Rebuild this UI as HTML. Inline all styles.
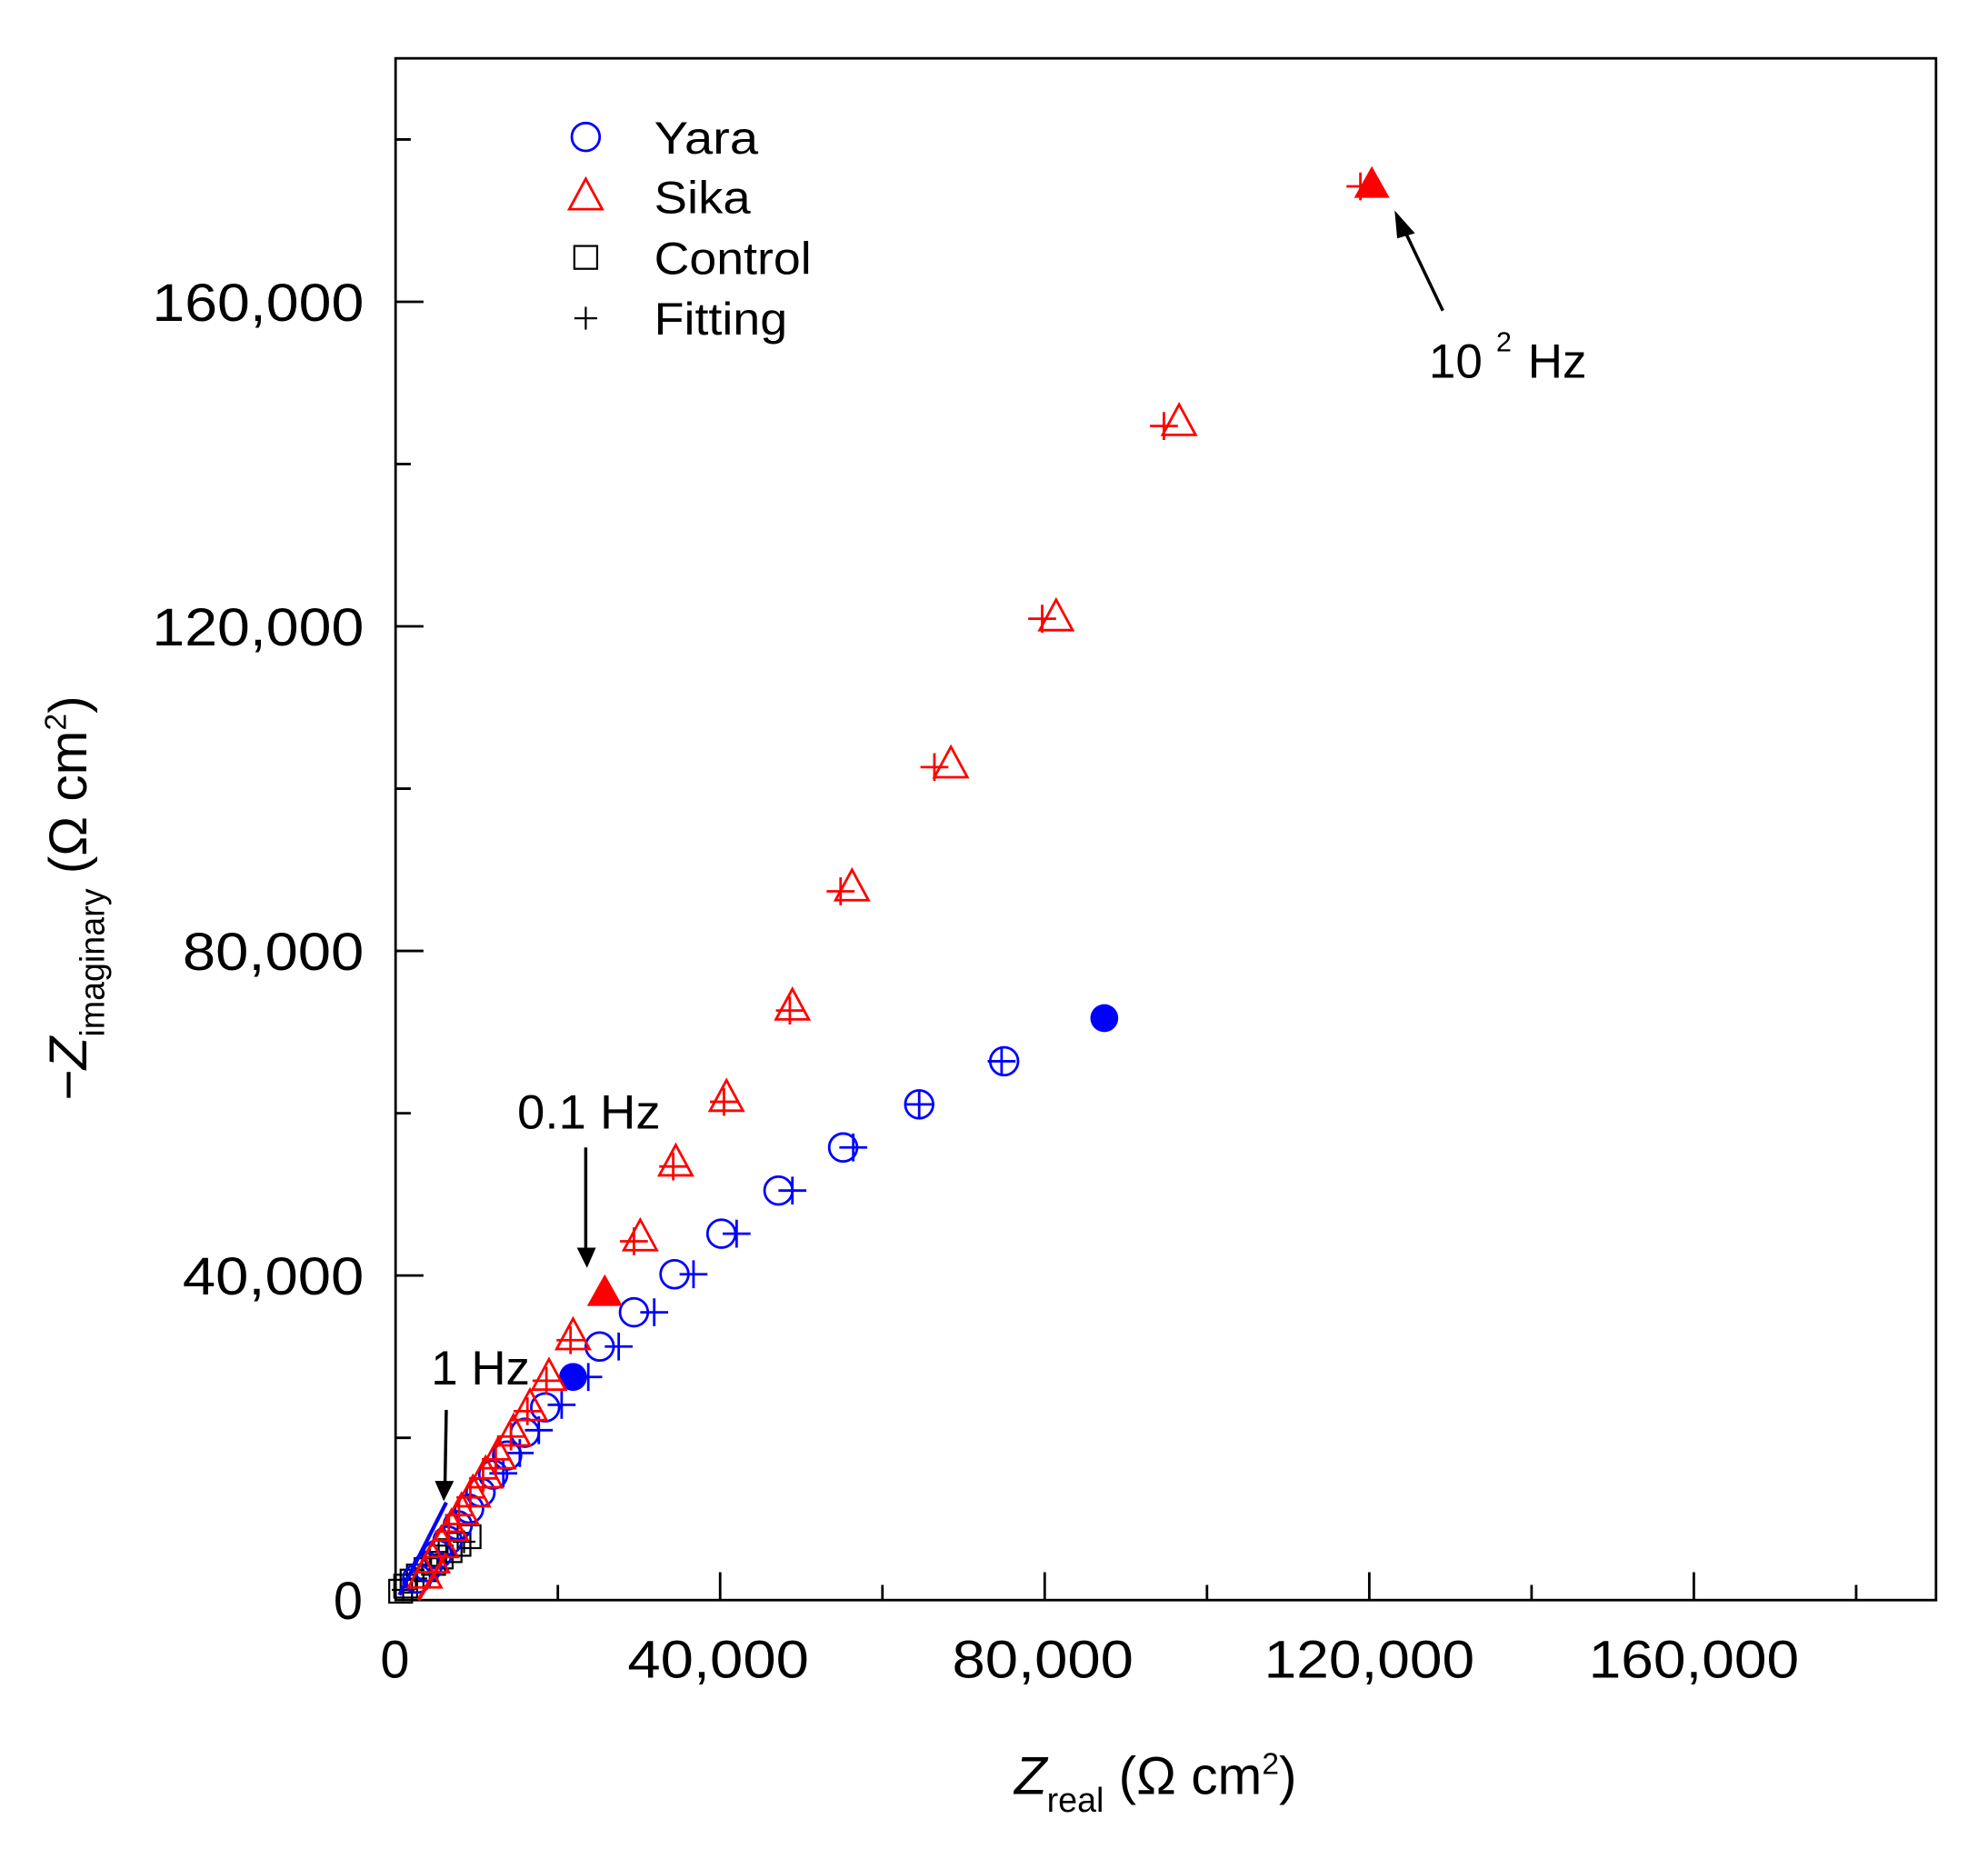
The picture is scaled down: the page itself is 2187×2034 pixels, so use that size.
<!DOCTYPE html>
<html><head><meta charset="utf-8"><style>html,body{margin:0;padding:0;background:#fff}svg{display:block}</style></head>
<body>
<svg width="2187" height="2034" viewBox="0 0 1568 1458.3" xmlns="http://www.w3.org/2000/svg" font-family="Liberation Sans, Arial, sans-serif">
<defs>
<g id="c"><circle r="11" fill="none" stroke="#0000ff" stroke-width="2"/></g>
<g id="t"><path d="M0,-14 L13,10 L-13,10 Z" fill="none" stroke="#ff0000" stroke-width="2"/></g>
<g id="s"><rect x="-9" y="-9" width="18" height="18" fill="none" stroke="#000" stroke-width="1.6"/></g>
<g id="pb"><path d="M-11,0H11M0,-11V11" stroke="#0000ff" stroke-width="2"/></g>
<g id="pr"><path d="M-11,0H11M0,-11V11" stroke="#ff0000" stroke-width="2"/></g>
<g id="pk"><path d="M-9,0H9M0,-9V9" stroke="#000" stroke-width="1.6"/></g>
</defs>
<rect width="1568" height="1458.3" fill="#fff"/>
<rect x="312" y="46" width="1215" height="1216" fill="none" stroke="#000" stroke-width="2"/>
<g stroke="#000" stroke-width="2">
<path d="M440,1262V1250M568,1262V1240M696,1262V1250M824,1262V1240M952,1262V1250M1080,1262V1240M1208,1262V1250M1336,1262V1240M1464,1262V1250"/>
<path d="M312,1134H324M312,1006H334M312,878H324M312,750H334M312,622H324M312,494H334M312,366H324M312,238H334M312,110H324"/>
</g>
<g font-size="42" fill="#000">
<text x="300" y="1323" textLength="23" lengthAdjust="spacingAndGlyphs">0</text>
<text x="495" y="1323" textLength="143" lengthAdjust="spacingAndGlyphs">40,000</text>
<text x="751" y="1323" textLength="143" lengthAdjust="spacingAndGlyphs">80,000</text>
<text x="997" y="1323" textLength="166" lengthAdjust="spacingAndGlyphs">120,000</text>
<text x="1253" y="1323" textLength="166" lengthAdjust="spacingAndGlyphs">160,000</text>
<text x="263" y="1277" textLength="23" lengthAdjust="spacingAndGlyphs">0</text>
<text x="144" y="1021" textLength="143" lengthAdjust="spacingAndGlyphs">40,000</text>
<text x="144" y="765" textLength="143" lengthAdjust="spacingAndGlyphs">80,000</text>
<text x="120" y="509" textLength="167" lengthAdjust="spacingAndGlyphs">120,000</text>
<text x="120" y="253" textLength="167" lengthAdjust="spacingAndGlyphs">160,000</text>
</g>
<text x="800" y="1415" font-size="42"><tspan font-style="italic">Z</tspan><tspan font-size="27" dy="14">real</tspan><tspan dy="-14"> (Ω cm</tspan><tspan font-size="24" dy="-16">2</tspan><tspan dy="16">)</tspan></text>
<text transform="translate(68,868) rotate(-90)" font-size="42"><tspan>−</tspan><tspan font-style="italic">Z</tspan><tspan font-size="27" dy="14">imaginary</tspan><tspan dy="-14"> (Ω cm</tspan><tspan font-size="24" dy="-16">2</tspan><tspan dy="16">)</tspan></text>
<use href="#c" x="462" y="108"/><text x="516" y="121" font-size="36" textLength="82" lengthAdjust="spacingAndGlyphs">Yara</text>
<use href="#t" x="462" y="155"/><text x="516" y="168" font-size="36" textLength="76" lengthAdjust="spacingAndGlyphs">Sika</text>
<use href="#s" x="462" y="203"/><text x="516" y="216" font-size="36" textLength="124" lengthAdjust="spacingAndGlyphs">Control</text>
<use href="#pk" x="462" y="251"/><text x="516" y="264" font-size="36" textLength="105" lengthAdjust="spacingAndGlyphs">Fitting</text>
<text x="1127" y="298" font-size="38">10</text><text x="1180" y="277" font-size="22">2</text><text x="1205" y="298" font-size="38">Hz</text>
<path d="M1138,245L1106,178" stroke="#000" stroke-width="2.5"/><path d="M1100,166L1116,184L1102,188Z" fill="#000"/>
<text x="408" y="890" font-size="38" textLength="113" lengthAdjust="spacingAndGlyphs">0.1 Hz</text>
<path d="M462,905V985" stroke="#000" stroke-width="2.5"/><path d="M455,984L470,984L463,1000Z" fill="#000"/>
<text x="340" y="1092" font-size="38" textLength="78" lengthAdjust="spacingAndGlyphs">1 Hz</text>
<path d="M352,1112L351,1170" stroke="#000" stroke-width="2.5"/><path d="M343,1168L358,1168L350,1184Z" fill="#000"/>
<g>
<use href="#s" x="370" y="1212"/><use href="#s" x="362" y="1218"/><use href="#s" x="355" y="1223"/><use href="#s" x="348" y="1228"/><use href="#s" x="342" y="1233"/><use href="#s" x="336" y="1238"/><use href="#s" x="330" y="1243"/><use href="#s" x="325" y="1247"/><use href="#s" x="320" y="1251"/><use href="#s" x="316" y="1255"/>
<use href="#pk" x="366" y="1216"/><use href="#pk" x="352" y="1226"/><use href="#pk" x="340" y="1235"/><use href="#pk" x="328" y="1245"/><use href="#pk" x="318" y="1254"/>
</g>
<path d="M315,1258L352,1185" stroke="#0000ff" stroke-width="3"/>
<g>
<use href="#c" x="792" y="837"/><use href="#c" x="725" y="871"/><use href="#c" x="665" y="905"/><use href="#c" x="614" y="939"/><use href="#c" x="569" y="973"/><use href="#c" x="532" y="1005"/><use href="#c" x="500" y="1035"/><use href="#c" x="473" y="1062"/>
<use href="#c" x="430" y="1110"/><use href="#c" x="414" y="1130"/><use href="#c" x="400" y="1148"/><use href="#c" x="389" y="1163"/><use href="#c" x="379" y="1177"/><use href="#c" x="370" y="1190"/><use href="#c" x="361" y="1203"/><use href="#c" x="353" y="1215"/><use href="#c" x="345" y="1226"/><use href="#c" x="337" y="1236"/><use href="#c" x="329" y="1245"/>
<use href="#pb" x="790" y="837"/><use href="#pb" x="725" y="871"/><use href="#pb" x="673" y="905"/><use href="#pb" x="625" y="939"/><use href="#pb" x="581" y="973"/><use href="#pb" x="547" y="1005"/><use href="#pb" x="516" y="1035"/><use href="#pb" x="488" y="1062"/><use href="#pb" x="464" y="1086"/><use href="#pb" x="443" y="1108"/><use href="#pb" x="425" y="1128"/><use href="#pb" x="410" y="1146"/><use href="#pb" x="397" y="1162"/>
<circle cx="871" cy="803" r="11" fill="#0000ff"/><circle cx="452" cy="1086" r="11" fill="#0000ff"/>
</g>
<path d="M330,1262L352,1225" stroke="#ff0000" stroke-width="3"/>
<g>
<use href="#t" x="930" y="333"/><use href="#t" x="833" y="487"/><use href="#t" x="750" y="603"/><use href="#t" x="672" y="700"/><use href="#t" x="625" y="794"/><use href="#t" x="573" y="866"/><use href="#t" x="533" y="917"/><use href="#t" x="505" y="976"/>
<use href="#t" x="452" y="1054"/><use href="#t" x="433" y="1086"/><use href="#t" x="418" y="1110"/><use href="#t" x="405" y="1130"/><use href="#t" x="393" y="1148"/><use href="#t" x="383" y="1163"/><use href="#t" x="373" y="1178"/><use href="#t" x="364" y="1192"/><use href="#t" x="356" y="1205"/><use href="#t" x="348" y="1218"/><use href="#t" x="341" y="1230"/><use href="#t" x="335" y="1242"/>
<use href="#pr" x="918" y="336"/><use href="#pr" x="822" y="488"/><use href="#pr" x="737" y="605"/><use href="#pr" x="663" y="703"/><use href="#pr" x="623" y="797"/><use href="#pr" x="571" y="869"/><use href="#pr" x="531" y="920"/><use href="#pr" x="500" y="979"/><use href="#pr" x="1073" y="147"/>
<use href="#pr" x="450" y="1057"/><use href="#pr" x="431" y="1089"/><use href="#pr" x="416" y="1113"/><use href="#pr" x="403" y="1133"/><use href="#pr" x="391" y="1151"/><use href="#pr" x="381" y="1166"/><use href="#pr" x="371" y="1181"/><use href="#pr" x="362" y="1195"/><use href="#pr" x="354" y="1208"/>
<path d="M1082,131L1096,156L1068,156Z" fill="#ff0000"/>
<path d="M477,1005L491,1030L463,1030Z" fill="#ff0000"/>
</g>
</svg>
</body></html>
